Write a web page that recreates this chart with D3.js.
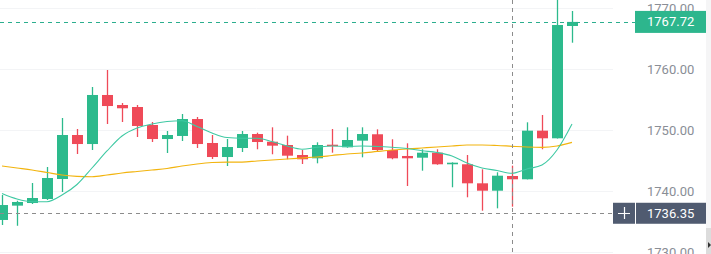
<!DOCTYPE html>
<html>
<head>
<meta charset="utf-8">
<script src="https://cdn.jsdelivr.net/npm/d3@7"></script>
<style>
  html, body { margin: 0; padding: 0; background: #fff; }
  svg { display: block; font-family: Roboto, "Noto Sans", sans-serif; }
</style>
</head>
<body>
<svg id="chart" width="711" height="254"></svg>
<script>
// candle values
var opens  = [1735.25,1737.60,1738.03,1738.69,1741.97,1749.18,1747.70,1755.74,1754.10,1753.77,
              1750.82,1748.52,1749.02,1751.80,1747.87,1745.57,1747.05,1749.34,1748.08,1747.54,
              1745.90,1745.36,1747.59,1747.16,1748.25,1749.30,1746.72,1745.74,1745.46,1746.28,
              1744.38,1744.38,1741.26,1740.05,1742.46,1741.92,1749.89,1748.64,1767.05];
var highs  = [1739.34,1738.40,1741.31,1743.93,1751.97,1750.16,1757.05,1759.84,1754.43,1754.10,
              1751.31,1749.84,1752.62,1752.13,1749.18,1748.52,1749.84,1749.56,1750.44,1749.07,
              1746.72,1747.98,1750.16,1750.44,1750.44,1750.11,1748.48,1747.82,1746.84,1746.84,
              1744.70,1745.90,1743.56,1743.07,1744.15,1751.26,1752.46,1771.60,1769.51];
var lows   = [1734.43,1734.30,1737.87,1738.52,1739.84,1746.07,1746.72,1750.98,1751.31,1748.85,
              1748.03,1746.23,1748.20,1747.05,1745.25,1744.10,1746.39,1746.84,1746.02,1745.20,
              1744.43,1744.54,1746.28,1747.10,1745.52,1746.44,1745.20,1740.82,1743.33,1744.30,
              1740.61,1738.97,1736.77,1737.16,1737.43,1741.90,1746.84,1748.60,1764.31];
var closes = [1737.70,1738.20,1738.85,1742.13,1749.18,1747.70,1755.74,1753.93,1753.56,1750.66,
              1748.52,1749.18,1751.80,1747.70,1745.57,1747.21,1749.34,1748.03,1747.43,1745.79,
              1745.20,1747.54,1747.38,1748.36,1749.34,1746.72,1745.36,1745.36,1746.28,1744.38,
              1744.64,1741.26,1740.05,1742.51,1741.92,1749.89,1748.64,1767.21,1767.72];

// moving averages as drawn
var maFast = [1739.59,1738.69,1738.25,1738.25,1739.34,1741.07,1743.77,1746.56,1749.02,1750.33,
              1750.98,1751.39,1751.52,1750.57,1749.51,1748.77,1748.64,1748.64,1748.11,1747.38,
              1746.84,1747.16,1747.38,1747.30,1747.38,1747.30,1747.16,1746.97,1746.61,1746.31,
              1745.74,1744.59,1743.77,1743.36,1742.90,1743.61,1744.26,1746.72,1750.98];
var maSlow = [1744.10,1743.77,1743.44,1743.03,1742.62,1742.41,1742.34,1742.62,1742.95,1743.20,
              1743.44,1743.69,1744.10,1744.43,1744.67,1744.75,1744.75,1744.92,1745.08,1745.25,
              1745.41,1745.57,1745.82,1746.07,1746.23,1746.48,1746.72,1746.89,1747.05,1747.21,
              1747.38,1747.54,1747.54,1747.46,1747.33,1747.21,1747.16,1747.38,1747.98];

var priceTicks = [1730, 1740, 1750, 1760, 1770];
var lastPrice = 1767.72;
var crossPrice = 1736.35;
var crossIndex = 34;

var green = "#2cba8c", red = "#ef4a58";

var svg = d3.select("#chart"),
    plotRight = 613,
    axisLeft = 635;

var x = d3.scaleLinear().domain([0, 38]).range([2, 572]);
var y = d3.scaleLinear().domain([1730, 1770]).range([252, 8]);

// faint grid
svg.append("g").selectAll("line")
  .data(priceTicks).enter().append("line")
  .attr("x1", 0).attr("x2", plotRight)
  .attr("y1", function(d) { return Math.round(y(d)) + 0.5; })
  .attr("y2", function(d) { return Math.round(y(d)) + 0.5; })
  .attr("stroke", "#f3f4f6");

var g = svg.append("g");

var candles = d3.range(opens.length).map(function(i) {
  return {i: i, o: opens[i], h: highs[i], l: lows[i], c: closes[i]};
});

var cg = g.selectAll(".candle").data(candles).enter().append("g")
  .attr("class", "candle");

cg.append("line")
  .attr("x1", function(d) { return Math.round(x(d.i)) + 0.5; })
  .attr("x2", function(d) { return Math.round(x(d.i)) + 0.5; })
  .attr("y1", function(d) { return y(d.h); })
  .attr("y2", function(d) { return y(d.l); })
  .attr("stroke", function(d) { return d.c >= d.o ? green : red; })
  .attr("stroke-width", 1.3);

cg.append("rect")
  .attr("x", function(d) { return Math.round(x(d.i)) - 5; })
  .attr("width", 11)
  .attr("y", function(d) { return y(Math.max(d.o, d.c)); })
  .attr("height", function(d) { return Math.max(1.5, Math.abs(y(d.o) - y(d.c))); })
  .attr("fill", function(d) { return d.c >= d.o ? green : red; });

var line = d3.line()
  .curve(d3.curveMonotoneX)
  .x(function(d, i) { return x(i); })
  .y(function(d) { return y(d); });

g.append("path").datum(maSlow)
  .attr("d", line)
  .attr("fill", "none")
  .attr("stroke", "#f2b40e")
  .attr("stroke-width", 1.2);

g.append("path").datum(maFast)
  .attr("d", line)
  .attr("fill", "none")
  .attr("stroke", "#3fc9a3")
  .attr("stroke-width", 1.1);

// last price line
svg.append("line")
  .attr("x1", 0).attr("x2", axisLeft)
  .attr("y1", Math.round(y(lastPrice)) + 0.5).attr("y2", Math.round(y(lastPrice)) + 0.5)
  .attr("stroke", "#2cae8e").attr("stroke-dasharray", "4,4");

// crosshair
svg.append("line")
  .attr("x1", 0).attr("x2", plotRight)
  .attr("y1", Math.round(y(crossPrice)) + 0.5).attr("y2", Math.round(y(crossPrice)) + 0.5)
  .attr("stroke", "#8c8c8c").attr("stroke-dasharray", "4,4");
svg.append("line")
  .attr("x1", Math.round(x(crossIndex)) + 0.5).attr("x2", Math.round(x(crossIndex)) + 0.5)
  .attr("y1", 0).attr("y2", 254)
  .attr("stroke", "#8c8c8c").attr("stroke-dasharray", "4,4");

// price axis
var yAxis = d3.axisRight(y).tickValues(priceTicks).tickSize(0).tickPadding(0)
  .tickFormat(d3.format(".2f"));
var ax = svg.append("g").attr("transform", "translate(647,0)").call(yAxis);
ax.select(".domain").remove();
ax.selectAll("text").attr("fill", "#8a8e96").style("font-size", "13px")
  .style("font-family", "Roboto, sans-serif");

// right edge strip + scroll handle
svg.append("rect").attr("x", 706).attr("y", 0).attr("width", 5).attr("height", 254).attr("fill", "#f5f5f6");
svg.append("rect").attr("x", 706).attr("y", 228).attr("width", 5).attr("height", 26).attr("fill", "#dcdcdc");
svg.append("path").attr("d", "M708,242 l3,3 l-3,3 z").attr("fill", "#333");

// last price label
var ly = y(lastPrice);
svg.append("rect").attr("x", axisLeft).attr("y", ly - 11).attr("width", 71).attr("height", 22).attr("fill", "#2db68d");
svg.append("text").attr("x", 647).attr("y", ly).attr("dy", "0.35em")
  .attr("fill", "#fff").style("font-size", "13px").text(d3.format(".2f")(lastPrice));

// crosshair label
var cy = y(crossPrice);
svg.append("rect").attr("x", plotRight).attr("y", cy - 10.5).attr("width", 22).attr("height", 21).attr("fill", "#505b70");
svg.append("path").attr("d", "M" + (plotRight + 5) + "," + (Math.round(cy) + 0.5) + "h12M" + (plotRight + 11.5) + "," + (Math.round(cy) - 6) + "v12")
  .attr("stroke", "#fff").attr("stroke-width", 1.2);
svg.append("rect").attr("x", axisLeft + 1).attr("y", cy - 10.5).attr("width", 70).attr("height", 21).attr("fill", "#505b70");
svg.append("text").attr("x", 647).attr("y", cy).attr("dy", "0.35em")
  .attr("fill", "#fff").style("font-size", "13px").text(d3.format(".2f")(crossPrice));
</script>
</body>
</html>
